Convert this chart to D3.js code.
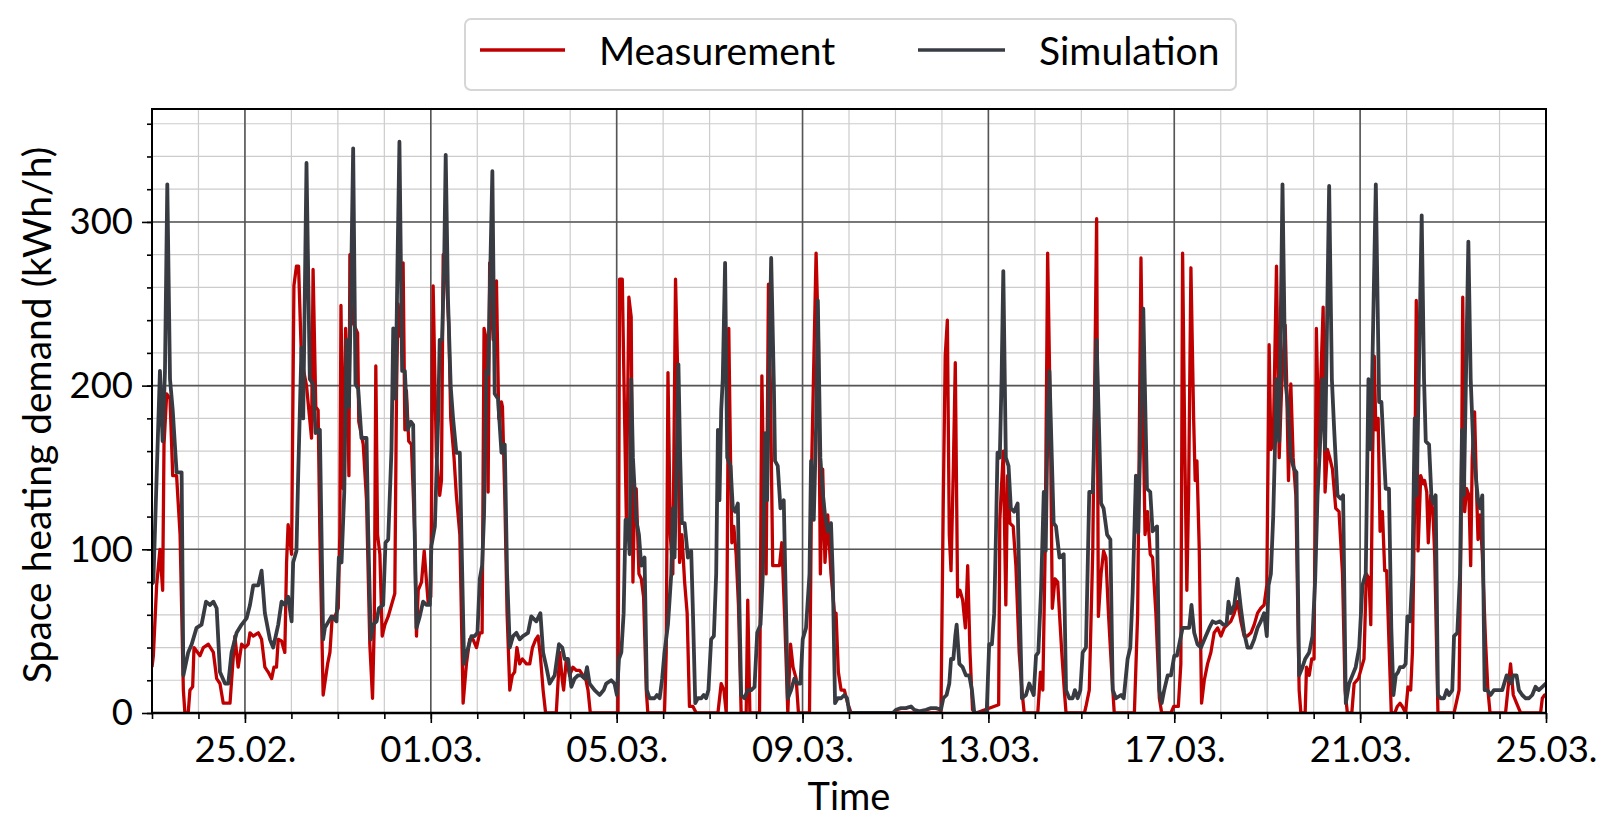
<!DOCTYPE html>
<html><head><meta charset="utf-8">
<script src="https://cdn.jsdelivr.net/npm/d3@7"></script>
<style>body{margin:0;background:#fff} text{font-family:Lato,'Noto Sans',sans-serif;fill:#000}</style>
</head><body>
<svg id="c" width="1619" height="839"></svg>
<script>
// ---- data (hours since 23.02. 00:00, kWh/h) ----
const simHours = [0,0.7,4.1,5.5,6.7,7.9,9.3,10.7,12.7,15.3,16.2,18.7,20.5,23.0,25.6,27.9,30.0,31.7,33.4,35.1,37.7,39.4,41.1,43.7,46.3,48.9,50.6,52.3,54.9,56.6,58.3,60.9,62.6,65.2,66.9,68.6,70.3,72.1,72.9,74.6,75.5,77.2,78.1,79.8,81.5,83.2,84.5,86.7,88.4,89.3,92.7,95.3,96.5,97.9,99.3,100.5,101.7,102.7,103.9,105.1,106.5,108.2,110.8,111.7,113.0,114.2,116.0,117.2,119.4,120.6,122.0,123.7,124.6,125.8,126.8,127.8,129.2,130.6,132.0,133.7,134.9,135.7,136.6,138.3,140.0,141.8,143.5,144.3,146.1,147.8,148.6,149.8,150.9,151.7,152.9,154.3,155.5,157.2,159.0,159.8,161.2,163.3,165.0,166.7,168.1,169.3,170.5,171.5,172.7,173.6,174.8,175.8,177.0,178.7,180.5,182.2,183.4,184.8,186.5,188.2,189.9,191.6,194.2,195.9,198.5,200.6,202.0,203.7,205.4,208.0,210.2,211.9,213.1,214.9,216.6,218.3,220.0,221.7,223.5,224.7,226.0,228.6,231.2,233.3,234.6,237.2,238.9,240.1,241.2,242.4,243.6,244.6,245.8,246.7,247.5,248.4,250.1,251.5,252.7,254.4,255.6,257.0,259.6,260.8,262.2,263.5,264.7,266.5,268.2,269.0,269.9,271.1,271.9,272.8,273.7,275.1,276.8,278.5,279.4,280.6,281.9,283.7,285.0,286.2,287.4,288.8,290.2,291.4,292.3,293.1,294.0,294.8,296.0,297.1,298.8,300.0,301.2,302.6,303.4,304.3,306.0,307.7,309.5,311.2,312.6,314.3,315.5,316.7,317.7,318.7,319.8,321.2,321.8,323.2,324.6,326.3,327.5,328.4,330.1,331.8,333.5,334.9,336.1,337.8,339.6,340.4,341.8,343.0,343.9,345.2,346.4,347.6,349.0,350.7,351.6,352.8,354.2,355.9,357.6,359.0,360.2,382.6,384.3,386.9,389.4,392.0,393.7,396.3,399.8,402.3,404.9,407.5,408.7,410.4,411.8,412.7,413.9,414.9,415.6,417.0,418.7,420.4,422.1,423.5,424.7,431.1,432.4,433.8,435.0,435.9,436.7,437.9,438.8,439.7,441.0,442.4,443.6,445.3,447.1,448.3,449.3,451.4,453.1,455.4,456.6,457.8,459.2,460.6,461.6,462.6,463.5,465.7,466.9,468.7,470.9,472.1,473.8,475.5,476.7,478.1,479.5,480.7,482.4,484.1,485.9,487.9,490.2,491.5,493.3,495.0,496.2,497.9,500.5,501.9,503.9,505.3,506.5,508.2,509.4,512.0,513.9,515.6,516.8,519.1,520.3,521.5,522.8,524.6,526.3,528.0,529.4,530.6,532.3,534.0,535.7,536.9,538.3,540.0,541.8,544.3,546.1,547.8,549.5,551.6,553.3,555.0,556.0,557.2,559.0,560.7,562.4,564.1,565.8,567.6,569.3,571.0,572.7,574.4,575.8,576.7,577.9,579.1,580.1,580.8,582.2,583.9,585.3,586.5,588.2,589.9,591.1,592.5,594.2,595.6,597.7,599.4,600.8,602.0,603.2,604.5,605.9,608.0,609.4,610.6,612.3,614.0,615.2,616.6,618.3,620.0,621.7,623.5,625.2,626.9,628.3,629.5,632.1,633.8,635.0,636.4,637.2,638.9,640.1,641.2,642.4,643.6,644.6,646.3,647.5,648.4,649.8,651.0,652.2,653.2,655.8,657.0,657.9,659.6,660.8,661.8,663.0,664.2,665.6,667.3,668.7,669.9,671.6,672.5,674.2,675.6,676.6,677.6,679.9,681.1,682.5,683.7,684.9,685.9,687.1,688.3,689.7,691.4,693.1,695.7,697.4,699.7,700.9,702.1,703.1,704.8,706.0,707.7,709.5,711.2,712.9,714.6,716.3,718.1,720];
const simValues = [79,80,209,166,209,323,204,185,147,147,23,37,42,52,54,68,66,68,64,25,18,18,37,49,54,58,66,78,78,87,61,45,40,54,68,66,71,56,92,99,145,223,180,336,204,201,171,173,45,52,59,56,95,92,135,228,187,252,345,201,198,168,168,109,45,54,56,64,66,104,106,161,235,192,275,349,209,209,173,178,176,109,52,59,68,66,66,102,114,180,228,228,275,341,252,199,180,159,159,109,30,40,47,47,49,82,90,121,209,207,275,331,195,192,159,164,85,40,47,49,45,47,49,59,56,61,37,28,18,23,42,40,33,33,16,21,23,23,21,28,18,14,11,14,18,20,18,11,33,37,61,118,118,97,204,156,118,109,90,95,14,9,9,11,9,21,37,54,85,125,95,161,213,156,116,116,95,99,61,6,9,9,11,9,14,45,47,85,173,130,185,204,275,156,151,125,123,128,66,11,9,14,14,16,49,54,85,171,130,204,278,200,154,151,125,130,61,9,14,21,18,18,45,52,85,154,118,175,252,156,135,121,111,116,85,6,9,9,11,9,0,0,2,3,3,4,2,1,2,3,3,2,9,11,18,33,33,47,54,30,28,23,23,14,0,0,42,42,61,109,159,156,204,270,156,151,125,123,128,60,9,11,18,11,35,37,75,135,99,180,209,116,114,95,97,14,9,9,14,9,14,37,40,135,135,228,128,125,109,106,14,9,11,9,33,40,73,145,110,247,137,135,111,114,14,6,14,23,23,35,35,42,52,52,52,66,49,42,40,47,52,56,55,56,54,54,68,61,66,82,64,49,40,40,45,52,56,61,47,78,85,120,166,204,166,323,204,190,156,149,147,23,28,33,37,47,82,133,161,204,161,322,204,173,133,131,133,6,18,23,28,40,78,85,204,161,323,190,190,156,137,137,52,11,23,25,28,28,30,59,56,85,180,133,304,204,166,164,133,128,133,11,9,9,14,11,14,47,49,85,173,133,288,204,161,145,130,125,133,14,14,11,14,14,14,23,21,18,23,23,14,11,9,9,11,16,14,16,18];

const measHours = [0,0.7,2.4,4.1,5.5,6.2,7.6,9.3,10.7,12.7,14.5,16.2,17.0,18.7,19.6,21.0,21.7,24.8,26.5,29.1,31.7,33.4,35.1,36.8,40.3,41.6,42.8,44.5,46.3,48.0,49.7,50.6,52.3,54.9,56.6,58.3,60.0,61.8,63.0,64.3,65.2,66.9,68.6,69.5,70.3,72.1,73.3,74.6,75.7,77.2,79.8,82.4,83.2,84.6,85.8,86.7,88.4,90.7,91.9,93.1,94.5,96.2,97.0,97.6,98.8,100.0,101.0,101.7,102.2,103.1,104.4,106.2,106.8,109.1,110.8,112.5,113.9,114.8,115.6,116.5,117.7,118.9,120.3,122.0,123.7,125.4,126.3,127.1,128.5,129.7,130.6,131.4,132.6,134.0,135.7,136.6,137.5,139.2,140.6,141.8,142.6,144.0,145.2,146.9,148.6,149.5,150.4,151.7,153.3,154.3,156.0,157.2,159.0,160.7,162.4,164.1,165.8,167.6,169.3,170.5,171.5,172.7,173.6,174.4,176.2,177.9,179.1,180.5,181.0,182.2,183.4,184.8,186.1,187.3,188.5,189.9,191.3,193.4,195.1,196.5,198.2,199.4,200.6,202.0,203.3,208.8,210.6,211.9,212.6,214.0,215.7,217.4,219.2,220.9,222.6,224.0,225.2,226.4,240.7,241.5,242.9,244.1,245.0,246.3,247.5,248.4,249.3,250.1,251.5,252.7,253.9,255.3,256.1,264.7,265.6,266.5,267.7,269.0,270.4,271.6,272.5,273.7,275.1,276.4,277.6,279.4,281.1,292.3,294.0,295.4,296.6,297.9,298.8,299.5,300.5,301.7,302.9,304.3,306.9,307.7,308.8,313.8,315.0,316.0,317.2,318.4,319.4,320.6,324.1,325.3,326.7,328.4,329.8,331.1,332.7,333.9,339.6,340.8,343.0,344.2,345.2,346.4,347.6,349.0,350.7,352.5,353.3,354.5,355.9,357.6,359.3,361.1,407.5,408.7,409.7,410.8,411.8,412.7,413.9,414.9,416.1,417.3,418.7,420.1,421.3,422.5,423.8,425.6,437.3,437.9,439.7,441.0,441.9,443.1,444.8,446.2,447.9,449.3,450.5,457.5,458.9,460.1,461.3,462.6,464.0,465.0,466.4,467.8,468.7,469.9,471.2,472.1,481.6,482.4,484.1,485.9,487.9,488.8,490.2,491.5,492.7,494.0,495.7,497.0,507.4,509.1,510.8,511.7,512.9,514.2,515.6,516.8,518.5,520.3,521.5,526.3,527.7,530.1,531.4,532.3,533.5,534.5,535.4,536.6,538.0,538.8,539.7,540.9,542.1,543.5,545.2,546.9,548.6,550.4,552.1,553.8,555.5,557.2,559.0,560.7,562.4,564.1,565.8,567.6,569.3,571.0,572.7,574.4,575.8,577.0,577.9,579.1,580.8,582.2,583.6,585.3,586.0,587.0,588.2,589.4,590.8,592.5,593.4,595.6,596.3,597.7,599.0,600.2,601.4,602.8,603.7,604.9,605.9,607.1,608.3,609.7,611.4,613.1,614.9,616.2,617.4,619.7,620.9,623.1,624.8,626.0,627.2,628.6,629.5,630.5,631.3,632.1,633.3,634.3,635.5,636.7,637.7,638.9,640.1,641.9,643.2,644.6,645.8,647.5,648.7,650.1,651.0,652.2,653.0,653.9,655.3,656.7,657.3,658.4,659.2,660.4,661.6,662.5,664.2,672.5,675.1,676.3,677.0,678.0,679.0,680.2,681.1,681.9,683.1,684.2,684.9,685.9,687.1,688.8,690.0,691.1,699.1,700.3,701.7,703.1,704.8,706.9,717.2,718.1,719.3,720];
const measValues = [28,35,78,100,75,164,195,192,145,145,109,14,0,0,14,16,40,35,40,42,37,21,18,6,6,28,47,28,42,40,42,49,47,49,45,28,25,21,28,28,45,44,37,92,115,97,261,273,273,216,200,168,271,187,185,109,11,30,37,59,59,64,109,249,137,235,204,145,280,240,237,232,178,164,130,42,9,54,212,109,97,47,54,59,66,73,197,250,230,275,173,197,166,164,109,47,75,80,99,80,68,71,261,156,133,142,280,275,237,180,156,133,109,6,30,45,45,40,49,49,235,228,135,275,228,264,180,190,187,133,61,14,23,25,40,30,33,30,30,40,45,47,35,14,0,0,37,20,14,33,23,28,26,26,23,21,14,0,0,265,265,180,118,254,242,80,133,137,85,82,71,14,0,0,37,208,109,85,265,204,92,109,80,61,4,4,0,0,18,14,0,235,156,104,114,97,66,0,0,69,0,0,206,133,85,262,200,90,90,104,61,0,42,28,21,0,0,156,281,228,85,149,92,121,85,61,61,25,14,14,6,0,0,130,218,240,109,87,150,214,71,75,69,52,90,37,2,0,5,118,160,66,145,116,114,90,37,14,0,0,25,14,99,281,180,64,82,80,61,37,14,0,0,4,14,99,302,59,85,99,95,61,25,0,0,61,278,200,109,123,97,95,61,9,0,0,4,4,30,281,156,75,133,272,180,142,154,100,6,20,30,37,49,52,47,52,54,56,61,68,56,47,47,49,54,61,64,66,78,225,161,164,273,156,204,237,204,142,201,156,133,14,0,0,28,23,33,33,235,156,204,248,135,161,156,149,125,123,85,14,0,0,18,21,28,33,85,82,54,160,218,173,180,111,123,87,87,43,0,0,4,6,4,0,16,14,37,133,252,99,145,140,142,135,104,133,123,97,0,0,14,133,254,123,137,133,90,156,184,133,106,121,97,43,14,0,0,14,30,11,6,0,0,9,11,10];

const seriesNames = ["Measurement","Simulation"];
const seriesColors = ["#c00000","#383c42"];
const majorTickDays = [2,6,10,14,18,22,26,30];
const xTickLabels = ["25.02.","01.03.","05.03.","09.03.","13.03.","17.03.","21.03.","25.03."];
const yMajorTicks = [0,100,200,300];
const yLabel = "Space heating demand (kWh/h)";
const xLabel = "Time";

// ---- layout ----
const W=1619,H=839;
const L=152,R=1546,T=109,B=713;
const start = Date.UTC(2019,1,23);
const HOUR = 3600e3, DAY = 24*HOUR;
const x = d3.scaleUtc().domain([new Date(start), new Date(start+30*DAY)]).range([L,R]);
const y = d3.scaleLinear().domain([0,369]).range([B,T]);
const svg = d3.select("#c");
const TICKFONT = 36.5, LEGFONT = 39, XLFONT = 38, YLFONT = 39;

const allDays = d3.range(0,31).map(d=>new Date(start+d*DAY));
const majorDates = majorTickDays.map(d=>new Date(start+d*DAY));
const yMinor = d3.range(0,369,20);

// minor grid
const g = svg.append("g");
g.selectAll(".vm").data(allDays).join("line")
  .attr("x1",d=>x(d)).attr("x2",d=>x(d)).attr("y1",T).attr("y2",B)
  .attr("stroke","#cccccc").attr("stroke-width",1.2);
g.selectAll(".hm").data(yMinor).join("line")
  .attr("x1",L).attr("x2",R).attr("y1",d=>y(d)).attr("y2",d=>y(d))
  .attr("stroke","#cccccc").attr("stroke-width",1.2);
// major grid
g.selectAll(".vM").data(majorDates).join("line")
  .attr("x1",d=>x(d)).attr("x2",d=>x(d)).attr("y1",T).attr("y2",B)
  .attr("stroke","#555555").attr("stroke-width",1.6);
g.selectAll(".hM").data(yMajorTicks).join("line")
  .attr("x1",L).attr("x2",R).attr("y1",d=>y(d)).attr("y2",d=>y(d))
  .attr("stroke","#555555").attr("stroke-width",1.6);

// clip
svg.append("clipPath").attr("id","clip").append("rect")
  .attr("x",L).attr("y",T).attr("width",R-L).attr("height",B-T);

const line = d3.line().x(d=>x(new Date(start+d[0]*HOUR))).y(d=>y(d[1]));
const meas = measHours.map((h,i)=>[h,measValues[i]]);
const sim = simHours.map((h,i)=>[h,simValues[i]]);
const lg = svg.append("g").attr("clip-path","url(#clip)");
lg.append("path").datum(meas).attr("d",line).attr("fill","none")
  .attr("stroke",seriesColors[0]).attr("stroke-width",3.3).attr("stroke-linejoin","round");
lg.append("path").datum(sim).attr("d",line).attr("fill","none")
  .attr("stroke",seriesColors[1]).attr("stroke-width",3.8).attr("stroke-linejoin","round");

// spines
svg.append("rect").attr("x",L).attr("y",T).attr("width",R-L).attr("height",B-T)
  .attr("fill","none").attr("stroke","#000").attr("stroke-width",2);
svg.append("line").attr("x1",L-1).attr("x2",R+1).attr("y1",B).attr("y2",B)
  .attr("stroke","#000").attr("stroke-width",2.6);

// x axis ticks
const xMajorAxis = d3.axisBottom(x).tickValues(majorDates).tickFormat((d,i)=>xTickLabels[i]).tickSize(10).tickPadding(13);
const xMinorAxis = d3.axisBottom(x).tickValues(allDays).tickFormat("").tickSize(6);
const gxm = svg.append("g").attr("transform",`translate(0,${B})`).call(xMinorAxis);
const gx = svg.append("g").attr("transform",`translate(0,${B})`).call(xMajorAxis);
[gxm,gx].forEach(s=>{s.select(".domain").remove(); s.selectAll(".tick line").attr("stroke","#000").attr("stroke-width",1.6);});
gx.selectAll(".tick text").attr("font-size",TICKFONT).attr("font-family","Lato").attr("fill","#000");

// y axis ticks
const yMajorAxis = d3.axisLeft(y).tickValues(yMajorTicks).tickFormat(d3.format("d")).tickSize(10).tickPadding(9);
const yMinorAxis = d3.axisLeft(y).tickValues(yMinor).tickFormat("").tickSize(5);
const gym = svg.append("g").attr("transform",`translate(${L},0)`).call(yMinorAxis);
const gy = svg.append("g").attr("transform",`translate(${L},0)`).call(yMajorAxis);
[gym,gy].forEach(s=>{s.select(".domain").remove(); s.selectAll(".tick line").attr("stroke","#000").attr("stroke-width",1.6);});
gy.selectAll(".tick text").attr("font-size",TICKFONT).attr("font-family","Lato").attr("fill","#000");

// axis labels
svg.append("text").attr("x",(L+R)/2).attr("y",810).attr("text-anchor","middle")
  .attr("font-size",XLFONT).text(xLabel);
svg.append("text").attr("transform",`translate(51,${(T+B)/2+4}) rotate(-90)`)
  .attr("text-anchor","middle").attr("font-size",YLFONT).text(yLabel);

// legend
const leg = svg.append("g");
leg.append("rect").attr("x",465).attr("y",19).attr("width",771).attr("height",71).attr("rx",6)
  .attr("fill","#fff").attr("stroke","#d6d6d6").attr("stroke-width",2);
const legX = [[480,565,599],[918,1005,1039]];
seriesNames.forEach((n,i)=>{
  leg.append("line").attr("x1",legX[i][0]).attr("x2",legX[i][1]).attr("y1",50).attr("y2",50)
    .attr("stroke",seriesColors[i]).attr("stroke-width",3.6);
  leg.append("text").attr("x",legX[i][2]).attr("y",65).attr("font-size",LEGFONT).text(n);
});
</script>
</body></html>
